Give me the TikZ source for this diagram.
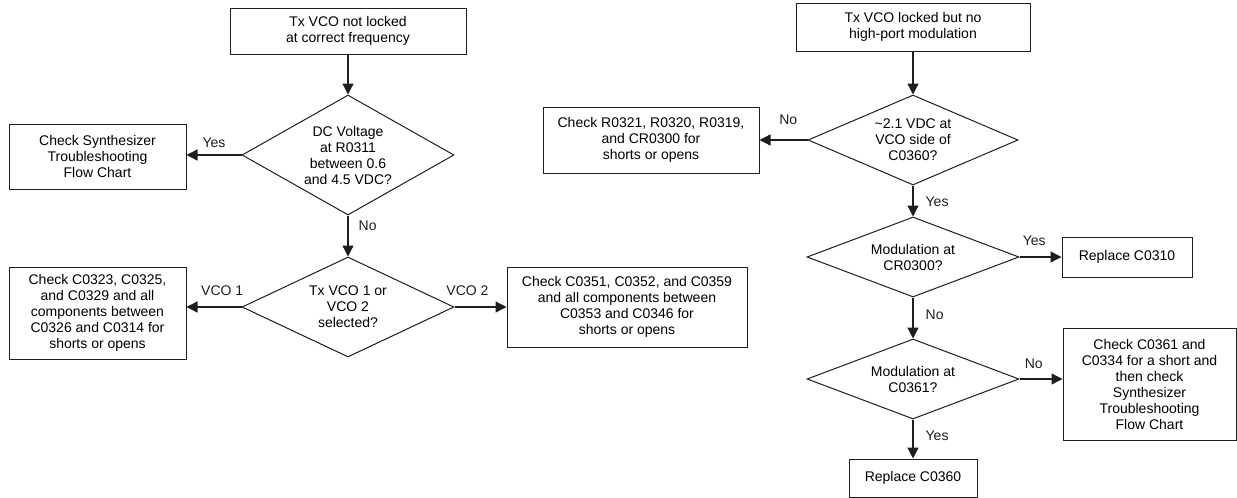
\documentclass[tikz,border=0pt]{standalone}
\usepackage{fontspec}
\setmainfont{Liberation Sans}
\usepackage{tikz}
\usetikzlibrary{shapes.geometric,arrows.meta,positioning}
\definecolor{chartink}{RGB}{30,30,30}

\begin{document}
\begin{tikzpicture}[x=1pt,y=-1pt,
    box/.style={rectangle, draw=chartink, line width=1pt, align=center,
                font=\fontsize{14}{16}\selectfont, inner sep=0pt},
    query/.style={diamond, draw=chartink, line width=1pt, align=center,
                  font=\fontsize{14}{16}\selectfont, inner sep=0pt},
    lbl/.style={font=\fontsize{14}{16}\selectfont, inner sep=0pt,
                text height=10pt, text depth=3pt},
    arr/.style={-{Triangle[length=11pt,width=11pt]}, line width=1.3pt, chartink}
]
    \useasboundingbox (0,0) rectangle (1237,498);

    % left chart
    \node[box, minimum width=236, minimum height=46] (txa) at (348,31)
        {Tx VCO not locked\\at correct frequency};
    \node[query, minimum width=212, minimum height=120, aspect=1.77] (dcv) at (348,155)
        {DC Voltage\\at R0311\\between 0.6\\and 4.5 VDC?};
    \node[box, minimum width=177, minimum height=65] (synA) at (97.5,156.5)
        {Check Synthesizer\\Troubleshooting\\Flow Chart};
    \node[query, minimum width=212, minimum height=100, aspect=2.12] (vsel) at (348,307)
        {Tx VCO 1 or\\VCO 2\\selected?};
    \node[box, minimum width=177, minimum height=92] (vco1) at (97.5,313)
        {Check C0323, C0325,\\and C0329 and all\\components between\\C0326 and C0314 for\\shorts or opens};
    \node[box, minimum width=240, minimum height=80] (vco2) at (627,307)
        {Check C0351, C0352, and C0359\\and all components between\\C0353 and C0346 for\\shorts or opens};

    \draw[arr] (txa) -- (dcv.north);
    \draw[arr] (dcv.west) -- (dcv.west -| synA.east)
        node[lbl, midway, above=3.5pt] {Yes};
    \draw[arr] (dcv.south) -- (vsel.north)
        node[lbl, pos=0.29, right=10pt] {No};
    \draw[arr] (vsel.west) -- (vsel.west -| vco1.east)
        node[lbl, pos=0.35, above=7.5pt] {VCO 1};
    \draw[arr] (vsel.east) -- (vco2.west)
        node[lbl, pos=0.25, above=7.5pt] {VCO 2};

    % right chart
    \node[box, minimum width=234, minimum height=48] (txb) at (913,27)
        {Tx VCO locked but no\\high-port modulation};
    \node[query, minimum width=210, minimum height=90, aspect=2.33] (vdc) at (913,140)
        {\textasciitilde2.1 VDC at\\VCO side of\\C0360?};
    \node[box, minimum width=216, minimum height=66] (rchk) at (651,140)
        {Check R0321, R0320, R0319,\\and CR0300 for\\shorts or opens};
    \node[query, minimum width=212, minimum height=80, aspect=2.65] (modcr) at (913,257)
        {Modulation at\\CR0300?};
    \node[box, minimum width=130, minimum height=40] (rep310) at (1127,257)
        {Replace C0310};
    \node[query, minimum width=212, minimum height=80, aspect=2.65] (modc) at (913,379)
        {Modulation at\\C0361?};
    \node[box, minimum width=173, minimum height=112] (synB) at (1149.5,384)
        {Check C0361 and\\C0334 for a short and\\then check\\Synthesizer\\Troubleshooting\\Flow Chart};
    \node[box, minimum width=128, minimum height=38] (rep360) at (913,478)
        {Replace C0360};

    \draw[arr] (txb) -- (vdc.north);
    \draw[arr] (vdc.west) -- (rchk.east)
        node[lbl, pos=0.4, above=11.5pt] {No};
    \draw[arr] (vdc.south) -- (modcr.north)
        node[lbl, pos=0.56, right=12pt] {Yes};
    \draw[arr] (modcr.east) -- (rep310.west)
        node[lbl, pos=0.35, above=7.5pt] {Yes};
    \draw[arr] (modcr.south) -- (modc.north)
        node[lbl, pos=0.44, right=12pt] {No};
    \draw[arr] (modc.east) -- (modc.east -| synB.west)
        node[lbl, pos=0.33, above=6.5pt] {No};
    \draw[arr] (modc.south) -- (rep360)
        node[lbl, pos=0.45, right=12pt] {Yes};
\end{tikzpicture}
\end{document}
